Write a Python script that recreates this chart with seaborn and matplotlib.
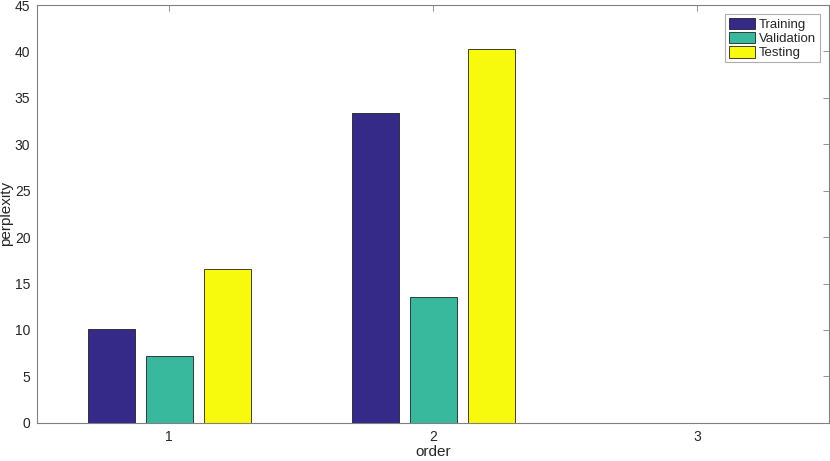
import pandas as pd
import matplotlib
matplotlib.use("Agg")
import matplotlib.pyplot as plt
import seaborn as sns

# values
orders = ["1", "2", "3"]
training = [10.1, 33.35, 0]
validation = [7.2, 13.55, 0]
testing = [16.55, 40.3, 0]
series = ["Training", "Validation", "Testing"]
colors = ["#352a87", "#38b89d", "#f8fa0d"]

df = pd.DataFrame({
    "order": orders * 3,
    "perplexity": training + validation + testing,
    "set": [s for s in series for _ in orders],
})

sns.set_style("white")
plt.rcParams["font.family"] = ["Liberation Sans", "DejaVu Sans"]

fig, ax = plt.subplots(figsize=(8.3, 4.61), dpi=100)
sns.barplot(data=df, x="order", y="perplexity", hue="set", hue_order=series,
            palette=colors, saturation=1, width=0.66, gap=0.19,
            edgecolor="#222222", linewidth=0.6, ax=ax)

ax.set_xlim(-0.5, 2.5)
ax.set_ylim(0, 45)
ax.set_yticks(range(0, 46, 5))
ax.set_xlabel("order", fontsize=11, color="#262626", labelpad=1)
ax.set_ylabel("perplexity", fontsize=11, color="#262626", labelpad=1)
ax.tick_params(direction="in", length=4, width=0.6, color="#808080",
               labelsize=10, labelcolor="#262626", top=True, right=True, pad=5)
for sp in ax.spines.values():
    sp.set_visible(True)
    sp.set_color("#808080")
    sp.set_linewidth(0.8)

leg = ax.legend(loc="upper right", fontsize=9.5, frameon=True, fancybox=False,
                edgecolor="#999999", borderpad=0.25, handlelength=2.0,
                handleheight=1.0, handletextpad=0.3, labelspacing=0.05,
                borderaxespad=0.7)
leg.get_frame().set_linewidth(0.8)

fig.subplots_adjust(left=0.045, right=0.9985, top=0.989, bottom=0.083)
fig.savefig("out.png", dpi=100)
